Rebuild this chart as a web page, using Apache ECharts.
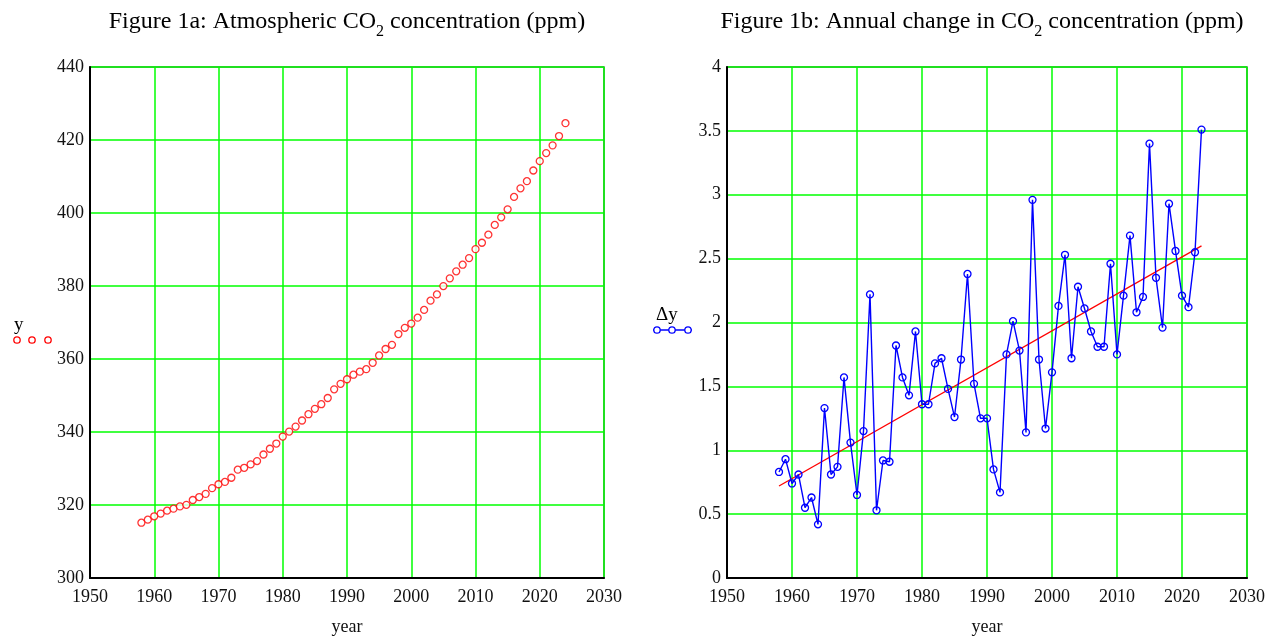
<!DOCTYPE html>
<html>
<head>
<meta charset="utf-8">
<script src="https://cdn.jsdelivr.net/npm/echarts@6/dist/echarts.min.js"></script>
<style>
html,body{margin:0;padding:0;background:#fff;}
#c{width:1277px;height:639px;}
</style>
</head>
<body>
<div id="c"></div>
<script>
// ---- data ----
var years = [1958,1959,1960,1961,1962,1963,1964,1965,1966,1967,1968,1969,1970,1971,1972,1973,1974,1975,1976,1977,1978,1979,1980,1981,1982,1983,1984,1985,1986,1987,1988,1989,1990,1991,1992,1993,1994,1995,1996,1997,1998,1999,2000,2001,2002,2003,2004,2005,2006,2007,2008,2009,2010,2011,2012,2013,2014,2015,2016,2017,2018,2019,2020,2021,2022,2023,2024];
var co2 = [315.15,315.98,316.91,317.64,318.45,318.99,319.62,320.04,321.37,322.18,323.05,324.62,325.68,326.32,327.46,329.68,330.19,331.13,332.03,333.84,335.41,336.84,338.76,340.12,341.48,343.15,344.87,346.35,347.61,349.31,351.69,353.20,354.45,355.70,356.54,357.21,358.96,360.97,362.74,363.88,366.84,368.54,369.71,371.32,373.45,375.98,377.70,379.98,382.09,384.02,385.83,387.64,390.10,391.85,394.06,396.74,398.81,401.01,404.41,406.76,408.72,411.65,414.21,416.41,418.53,421.08,424.61];
var diffYears = [1958,1959,1960,1961,1962,1963,1964,1965,1966,1967,1968,1969,1970,1971,1972,1973,1974,1975,1976,1977,1978,1979,1980,1981,1982,1983,1984,1985,1986,1987,1988,1989,1990,1991,1992,1993,1994,1995,1996,1997,1998,1999,2000,2001,2002,2003,2004,2005,2006,2007,2008,2009,2010,2011,2012,2013,2014,2015,2016,2017,2018,2019,2020,2021,2022,2023];
var dco2 = [0.83,0.93,0.74,0.81,0.55,0.63,0.42,1.33,0.81,0.87,1.57,1.06,0.65,1.15,2.22,0.53,0.92,0.91,1.82,1.57,1.43,1.93,1.36,1.36,1.68,1.72,1.48,1.26,1.71,2.38,1.52,1.25,1.25,0.85,0.67,1.75,2.01,1.78,1.14,2.96,1.71,1.17,1.61,2.13,2.53,1.72,2.28,2.11,1.93,1.81,1.81,2.46,1.75,2.21,2.68,2.08,2.20,3.40,2.35,1.96,2.93,2.56,2.21,2.12,2.55,3.51];
var trendYears = [1958, 2023];
var trendValues = [0.72, 2.60];

function pairs(xs, ys){ var out=[]; for (var i=0;i<ys.length;i++) out.push([xs[i], ys[i]]); return out; }

var serif = '"Liberation Serif", "DejaVu Serif", serif';
var GREEN = '#00ff00';
var plain = function(v){ return String(v); };

var chart = echarts.init(document.getElementById('c'), null, {renderer:'canvas'});

function xAxisCfg(gi){
  return {
    type:'value', gridIndex:gi, min:1950, max:2030, interval:10,
    name:'year', nameLocation:'middle', nameGap:40,
    nameTextStyle:{fontFamily:serif, fontSize:18, color:'#111'},
    axisLine:{show:true, onZero:false, lineStyle:{color:'#000', width:2}},
    axisTick:{show:false},
    axisLabel:{fontFamily:serif, fontSize:18, color:'#111', margin:10, formatter:plain},
    splitLine:{show:true, lineStyle:{color:GREEN, width:1.5}}
  };
}
function yAxisCfg(gi, mn, mx, iv){
  return {
    type:'value', gridIndex:gi, min:mn, max:mx, interval:iv,
    axisLine:{show:true, onZero:false, lineStyle:{color:'#000', width:2}},
    axisTick:{show:false},
    axisLabel:{fontFamily:serif, fontSize:18, color:'#111', margin:6, formatter:plain},
    splitLine:{show:true, lineStyle:{color:GREEN, width:1.5}}
  };
}

var titleRich = {
  a:{fontFamily:serif, fontSize:24, fontWeight:'normal', color:'#000', lineHeight:30, verticalAlign:'top'},
  s:{fontFamily:serif, fontSize:16, fontWeight:'normal', color:'#000', lineHeight:15, verticalAlign:'bottom'}
};

chart.setOption({
  animation:false,
  backgroundColor:'#fff',
  title:[
    {text:'{a|Figure 1a: Atmospheric CO}{s|2}{a| concentration (ppm)}', left:342, top:5, textAlign:'center',
     textStyle:{fontWeight:'normal', rich:titleRich}},
    {text:'{a|Figure 1b: Annual change in CO}{s|2}{a| concentration (ppm)}', left:977, top:5, textAlign:'center',
     textStyle:{fontWeight:'normal', rich:titleRich}}
  ],
  grid:[
    {left:90, right:673, top:67, bottom:61, containLabel:false, outerBoundsMode:'none', show:true, borderColor:'#555', borderWidth:1.5, backgroundColor:'#fff'},
    {left:727, right:30, top:67, bottom:61, containLabel:false, outerBoundsMode:'none', show:true, borderColor:'#555', borderWidth:1.5, backgroundColor:'#fff'}
  ],
  xAxis:[xAxisCfg(0), xAxisCfg(1)],
  yAxis:[yAxisCfg(0,300,440,20), yAxisCfg(1,0,4,0.5)],
  series:[
    {type:'scatter', xAxisIndex:0, yAxisIndex:0, data:pairs(years, co2),
     symbol:'circle', symbolSize:7,
     itemStyle:{color:'#fff', borderColor:'#ff0000', borderWidth:1.3}},
    {type:'line', xAxisIndex:1, yAxisIndex:1, data:pairs(trendYears, trendValues),
     symbol:'none', lineStyle:{color:'#ff0000', width:1.3}, z:3},
    {type:'line', xAxisIndex:1, yAxisIndex:1, data:pairs(diffYears, dco2),
     symbol:'circle', symbolSize:7, showSymbol:true,
     lineStyle:{color:'#0000ff', width:1.4},
     itemStyle:{color:'rgba(255,255,255,0)', borderColor:'#0000ff', borderWidth:1.3}, z:4}
  ],
  graphic:[
    {type:'text', left:14, top:316, style:{text:'y', font:'19px '+serif, fill:'#000'}},
    {type:'circle', shape:{cx:17, cy:340, r:3.2}, style:{fill:'#fff', stroke:'#ff0000', lineWidth:1.3}},
    {type:'circle', shape:{cx:32, cy:340, r:3.2}, style:{fill:'#fff', stroke:'#ff0000', lineWidth:1.3}},
    {type:'circle', shape:{cx:48, cy:340, r:3.2}, style:{fill:'#fff', stroke:'#ff0000', lineWidth:1.3}},
    {type:'text', left:656, top:306, style:{text:'\u0394y', font:'19px '+serif, fill:'#000'}},
    {type:'line', shape:{x1:653, y1:330, x2:692, y2:330}, style:{stroke:'#0000ff', lineWidth:1.4}},
    {type:'circle', shape:{cx:657, cy:330, r:3.2}, style:{fill:'#fff', stroke:'#0000ff', lineWidth:1.3}},
    {type:'circle', shape:{cx:672, cy:330, r:3.2}, style:{fill:'#fff', stroke:'#0000ff', lineWidth:1.3}},
    {type:'circle', shape:{cx:688, cy:330, r:3.2}, style:{fill:'#fff', stroke:'#0000ff', lineWidth:1.3}}
  ]
});
</script>
</body>
</html>
